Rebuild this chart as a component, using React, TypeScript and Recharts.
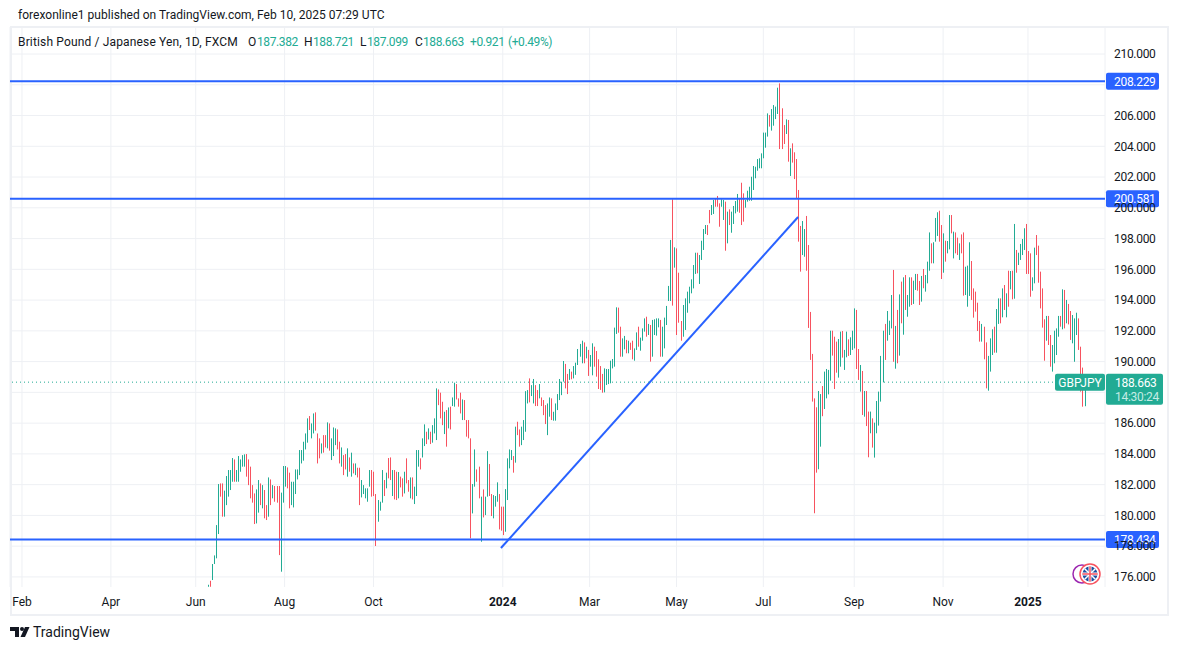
import {
  Bar,
  CartesianGrid,
  ComposedChart,
  ReferenceLine,
  XAxis,
  YAxis,
} from "recharts";

// daily highs, oldest first (Jun 2023 - Feb 2025)
const highs = [
  175.49, 175.75, 176.84, 177.40, 179.37, 182.04, 182.08, 182.08, 181.61, 182.56,
  182.95, 182.95, 183.73, 183.64, 182.95, 183.86, 183.64, 183.92, 183.97, 183.99,
  183.64, 183.17, 181.97, 181.43, 181.69, 182.30, 182.08, 181.97, 181.65, 180.67,
  182.47, 182.34, 181.97, 181.91, 181.91, 181.91, 181.48, 183.21, 183.21, 183.12,
  182.78, 182.19, 182.19, 182.99, 182.99, 184.25, 184.25, 184.79, 185.33, 186.31,
  186.46, 185.98, 186.63, 186.70, 185.33, 185.01, 184.68, 185.22, 185.22, 186.05,
  185.98, 185.01, 185.72, 185.66, 185.59, 184.79, 184.42, 183.92, 183.99, 184.36,
  183.77, 184.08, 183.38, 183.38, 183.10, 183.10, 182.30, 181.97, 181.76, 181.76,
  182.95, 182.95, 182.84, 181.39, 181.00, 180.89, 182.95, 182.30, 182.78, 183.73,
  183.77, 182.95, 182.95, 182.84, 182.82, 182.52, 182.41, 182.84, 183.71, 182.30,
  182.47, 182.47, 181.87, 184.25, 184.25, 183.71, 185.01, 185.92, 185.44, 185.66,
  185.44, 185.87, 186.31, 188.26, 188.19, 187.98, 187.39, 186.74, 186.85, 187.02,
  187.07, 187.67, 188.63, 188.54, 187.61, 187.98, 187.54, 187.50, 186.20, 186.20,
  185.01, 182.04, 184.29, 182.99, 183.17, 181.22, 181.69, 181.22, 184.18, 183.34,
  181.39, 181.32, 181.26, 182.15, 181.39, 180.57, 180.57, 181.71, 183.71, 184.29,
  184.25, 183.86, 185.77, 186.09, 185.59, 185.77, 186.20, 188.08, 188.15, 188.91,
  188.47, 188.87, 188.47, 188.15, 188.54, 187.67, 187.50, 187.17, 187.28, 187.67,
  187.61, 186.74, 187.28, 187.89, 188.87, 188.69, 190.04, 189.85, 189.20, 189.52,
  189.35, 189.71, 189.93, 190.82, 191.15, 191.36, 191.25, 190.97, 190.76, 190.43,
  191.19, 190.97, 190.69, 190.15, 189.71, 189.20, 189.56, 189.52, 189.52, 190.06,
  190.17, 192.21, 193.53, 193.51, 192.27, 191.51, 191.67, 191.41, 191.36, 191.23,
  191.36, 190.86, 191.90, 192.27, 191.56, 192.16, 192.81, 192.92, 192.45, 192.38,
  192.71, 192.75, 192.81, 192.81, 192.71, 192.27, 192.86, 193.62, 194.92, 197.91,
  200.55, 197.43, 197.36, 195.78, 192.64, 193.68, 194.11, 194.55, 194.87, 195.35,
  196.28, 197.08, 197.08, 196.93, 197.86, 198.62, 198.88, 198.88, 199.86, 200.18,
  200.51, 200.62, 200.77, 200.29, 200.55, 200.51, 200.40, 199.75, 199.90, 199.75,
  200.12, 200.44, 200.90, 200.61, 201.63, 200.94, 200.51, 201.11, 201.37, 202.02,
  202.72, 202.67, 203.17, 203.22, 203.54, 204.89, 204.89, 206.14, 206.03, 206.42,
  206.68, 206.58, 207.81, 208.09, 206.47, 205.38, 205.75, 205.71, 203.87, 204.19,
  203.61, 203.17, 201.16, 198.82, 199.14, 198.62, 199.47, 197.58, 193.23, 190.50,
  187.61, 187.03, 188.09, 187.89, 188.41, 189.35, 189.52, 189.46, 192.01, 192.01,
  191.62, 191.30, 191.47, 191.95, 191.99, 190.76, 191.95, 191.45, 191.58, 192.01,
  193.46, 193.36, 190.82, 189.78, 189.39, 188.09, 188.09, 186.75, 186.75, 186.31,
  186.03, 187.44, 188.05, 190.37, 192.01, 192.45, 193.29, 192.66, 194.33, 195.96,
  192.32, 193.36, 194.37, 195.20, 195.48, 195.63, 194.33, 195.48, 195.48, 195.26,
  195.70, 195.70, 195.24, 195.57, 196.02, 195.63, 196.50, 198.40, 197.69, 197.76,
  199.34, 199.71, 199.81, 198.88, 198.34, 197.86, 197.84, 199.53, 199.53, 198.45,
  198.40, 198.06, 197.69, 198.27, 198.40, 196.17, 196.24, 197.76, 196.54, 194.76,
  194.55, 193.83, 192.64, 192.45, 192.27, 191.25, 190.37, 191.51, 192.10, 192.27,
  193.42, 194.11, 194.11, 194.76, 194.98, 194.44, 195.91, 195.89, 195.91, 198.95,
  197.26, 197.08, 197.65, 197.97, 198.67, 198.95, 197.19, 197.04, 195.48, 197.41,
  198.23, 197.54, 195.85, 194.76, 192.75, 192.97, 192.97, 191.73, 191.08, 192.01,
  192.16, 192.97, 192.97, 194.70, 194.66, 194.01, 193.75, 193.29, 193.03, 192.81,
  193.18, 192.81, 190.97, 189.61, 188.72,
];

const lows = [
  175.36, 175.36, 175.80, 176.84, 177.21, 178.79, 181.22, 179.92, 179.92, 180.67,
  181.22, 181.65, 182.19, 182.19, 182.19, 182.19, 182.84, 183.17, 183.17, 182.52,
  181.97, 181.11, 180.83, 179.44, 179.48, 180.18, 180.67, 180.46, 179.81, 179.70,
  179.92, 180.67, 181.11, 180.89, 180.83, 177.42, 176.34, 180.83, 181.87, 181.76,
  180.46, 180.67, 180.52, 181.39, 182.34, 182.62, 183.38, 183.56, 184.29, 184.73,
  185.55, 185.01, 185.33, 185.51, 183.38, 183.71, 184.03, 184.08, 184.42, 184.36,
  184.21, 183.60, 183.86, 184.57, 184.29, 183.38, 183.17, 182.62, 182.99, 182.52,
  182.84, 182.52, 182.73, 182.62, 182.47, 180.67, 181.17, 181.39, 181.11, 180.89,
  181.87, 181.22, 181.26, 178.01, 179.59, 180.31, 180.83, 181.26, 181.76, 182.41,
  182.30, 181.26, 181.04, 181.00, 181.11, 181.82, 181.22, 181.43, 182.08, 181.54,
  181.11, 181.04, 180.74, 181.26, 183.17, 182.99, 183.77, 184.51, 184.64, 184.94,
  184.64, 184.73, 185.33, 184.90, 187.17, 186.31, 185.87, 185.29, 184.47, 185.66,
  185.59, 187.11, 187.07, 187.54, 187.07, 186.63, 186.20, 186.20, 185.12, 185.01,
  178.51, 180.13, 181.87, 182.19, 181.11, 178.29, 179.87, 180.02, 181.22, 181.26,
  179.96, 179.81, 180.57, 180.89, 179.09, 179.01, 178.72, 178.94, 181.00, 183.06,
  183.60, 182.78, 183.43, 185.22, 184.47, 184.57, 184.90, 185.44, 187.28, 187.35,
  187.76, 187.28, 187.11, 187.11, 187.61, 187.11, 186.52, 185.94, 185.22, 186.42,
  186.20, 186.16, 186.16, 186.85, 187.50, 187.82, 188.70, 188.26, 187.89, 188.81,
  188.85, 188.91, 189.14, 189.78, 190.32, 189.89, 189.89, 190.21, 189.07, 189.67,
  189.11, 189.67, 189.02, 188.22, 188.16, 187.98, 188.00, 188.48, 188.54, 188.59,
  189.56, 189.67, 191.80, 191.88, 190.32, 190.32, 190.80, 190.54, 190.54, 190.76,
  190.15, 190.06, 190.76, 190.97, 190.71, 191.36, 191.95, 191.62, 191.73, 190.00,
  190.32, 191.73, 191.69, 192.23, 190.32, 190.32, 190.86, 192.38, 193.94, 193.94,
  193.64, 196.11, 191.73, 192.53, 191.36, 191.62, 192.06, 193.18, 193.79, 194.44,
  194.76, 195.70, 195.74, 195.05, 196.61, 197.26, 198.30, 198.23, 198.99, 199.53,
  199.60, 200.07, 200.07, 198.77, 200.07, 199.21, 197.21, 197.69, 198.88, 198.38,
  198.95, 199.64, 199.75, 199.68, 198.88, 199.10, 200.01, 200.40, 200.46, 200.46,
  201.16, 201.92, 202.41, 202.57, 202.57, 203.22, 203.91, 204.63, 205.28, 205.02,
  205.34, 205.77, 206.10, 203.82, 203.82, 204.15, 204.80, 203.00, 202.07, 202.94,
  201.87, 200.62, 197.80, 195.85, 196.93, 196.82, 195.91, 192.19, 190.11, 187.40,
  180.14, 182.78, 183.00, 184.47, 186.45, 186.92, 187.61, 187.87, 188.76, 190.39,
  188.22, 189.28, 188.96, 189.67, 190.26, 189.46, 190.28, 190.37, 190.43, 190.76,
  190.86, 189.52, 188.81, 188.05, 186.53, 186.42, 185.81, 183.78, 185.34, 184.41,
  183.76, 185.34, 185.84, 187.40, 188.65, 190.11, 191.36, 191.73, 192.16, 189.99,
  189.54, 189.89, 190.39, 192.49, 191.75, 193.36, 192.92, 193.57, 193.68, 193.75,
  194.66, 194.61, 193.68, 193.90, 194.77, 194.55, 195.09, 195.91, 196.39, 196.39,
  197.80, 198.17, 197.80, 195.37, 195.78, 196.50, 197.04, 197.30, 198.34, 196.71,
  197.04, 196.93, 196.61, 197.04, 194.29, 194.33, 193.57, 194.27, 194.01, 192.86,
  193.25, 191.99, 191.30, 191.30, 190.15, 188.26, 188.11, 189.35, 190.43, 190.58,
  190.58, 192.45, 192.49, 192.88, 193.36, 192.88, 193.57, 194.70, 194.05, 194.09,
  195.78, 196.28, 196.61, 196.93, 197.26, 195.70, 195.70, 194.22, 194.61, 195.09,
  196.93, 195.13, 193.46, 192.21, 190.06, 191.36, 191.08, 189.67, 189.35, 189.89,
  190.43, 191.62, 192.27, 192.10, 192.16, 192.49, 192.42, 191.41, 191.19, 189.99,
  191.73, 190.76, 188.05, 187.07, 187.10,
];

// 1 = green day, 0 = red day
const upDays = [
  1, 0, 1, 1, 1, 1, 0, 0, 1, 1,
  1, 1, 1, 0, 1, 1, 1, 1, 1, 0,
  0, 0, 0, 0, 1, 1, 0, 1, 0, 0,
  1, 0, 1, 0, 0, 0, 1, 1, 1, 0,
  0, 1, 1, 1, 1, 1, 1, 1, 1, 1,
  0, 1, 1, 0, 0, 0, 1, 0, 0, 1,
  0, 1, 1, 1, 0, 0, 1, 0, 0, 1,
  0, 1, 0, 1, 0, 0, 1, 1, 1, 1,
  1, 0, 0, 0, 1, 1, 1, 0, 1, 0,
  0, 1, 0, 0, 1, 0, 0, 1, 0, 0,
  1, 0, 1, 1, 1, 0, 1, 1, 0, 1,
  0, 1, 1, 1, 0, 0, 0, 1, 0, 1,
  0, 1, 1, 0, 0, 0, 1, 0, 0, 0,
  0, 1, 1, 0, 0, 1, 0, 1, 1, 0,
  0, 1, 1, 1, 0, 0, 0, 1, 1, 1,
  1, 0, 1, 0, 0, 1, 1, 1, 1, 0,
  1, 1, 0, 0, 1, 0, 0, 0, 1, 1,
  0, 1, 1, 1, 1, 1, 1, 0, 0, 1,
  0, 1, 1, 1, 1, 1, 0, 1, 0, 1,
  1, 0, 0, 0, 0, 0, 1, 1, 1, 1,
  1, 1, 1, 0, 0, 1, 1, 0, 1, 0,
  0, 1, 1, 0, 1, 1, 1, 0, 1, 0,
  1, 1, 1, 1, 0, 1, 1, 1, 1, 1,
  0, 1, 0, 0, 0, 1, 1, 1, 1, 1,
  1, 1, 0, 1, 1, 1, 1, 0, 0, 1,
  1, 0, 0, 0, 1, 1, 0, 1, 0, 1,
  1, 1, 1, 0, 0, 0, 1, 1, 1, 1,
  1, 1, 1, 1, 1, 1, 1, 1, 0, 1,
  1, 1, 1, 0, 0, 0, 1, 0, 1, 0,
  0, 0, 0, 0, 1, 1, 0, 0, 0, 0,
  0, 0, 1, 1, 0, 1, 1, 1, 1, 0,
  0, 0, 1, 1, 0, 1, 1, 0, 1, 1,
  1, 0, 0, 1, 0, 1, 0, 0, 1, 0,
  1, 1, 1, 1, 1, 0, 1, 1, 1, 0,
  1, 0, 1, 0, 1, 0, 1, 1, 0, 1,
  1, 0, 0, 1, 0, 1, 1, 1, 0, 1,
  1, 1, 0, 0, 1, 0, 1, 1, 0, 1,
  0, 0, 1, 0, 0, 1, 1, 1, 0, 0,
  0, 0, 0, 1, 0, 0, 1, 1, 1, 0,
  1, 1, 0, 1, 0, 1, 0, 1, 0, 1,
  0, 1, 1, 1, 1, 0, 0, 0, 1, 1,
  0, 0, 0, 0, 0, 1, 0, 0, 1, 1,
  1, 1, 0, 1, 0, 1, 0, 0, 1, 1,
  1, 0, 0, 0, 1,
];

// trading day number counted from the Feb 2023 tick
const firstDay = 92;
const monthDays = [0, 44, 86, 130, 174, 238, 281, 324, 367, 412, 456, 498];
const monthLabels = ["Feb", "Apr", "Jun", "Aug", "Oct", "2024", "Mar", "May", "Jul", "Sep", "Nov", "2025"];

const gridPrices = [176, 178, 180, 182, 184, 186, 188, 190, 192, 194, 196, 198, 200, 202, 204, 206, 208, 210];
// 188 and 208 sit fully under the price tags in the reference
const priceTicks = [176, 178, 180, 182, 184, 186, 190, 192, 194, 196, 198, 200, 202, 204, 206, 210];
const levels = [208.229, 200.581, 178.434];
const lastPrice = 188.663;
const trendStart = { day: 237.1, price: 177.88 };
const trendEnd = { day: 384.2, price: 199.4 };

const rows = highs.map((high, i) => ({
  day: firstDay + i,
  range: [lows[i], high],
  up: upDays[i] === 1,
}));

const GREEN = "#22ab94";
const RED = "#f7525f";
const BLUE = "#2962ff";
const GRID = "#eef0f4";
const INK = "#131722";
const FONT = "Roboto, sans-serif";

const RangeBar = (props: any) => (
  <rect
    x={Math.round(props.x)}
    y={props.y}
    width={1}
    height={Math.abs(props.height)}
    fill={props.payload.up ? GREEN : RED}
  />
);

const MonthTick = ({ x, y, payload }: any) => {
  const label = monthLabels[monthDays.indexOf(payload.value)];
  const isYear = label.length === 4;
  return (
    <text x={x} y={y} textAnchor="middle" dominantBaseline="central" fontFamily={FONT} fontSize={12} fontWeight={isYear ? 700 : 400} fill={INK}>
      {label}
    </text>
  );
};

const LevelTag = ({ viewBox, value }: any) => {
  const right = viewBox.x + viewBox.width;
  return (
    <g>
      <rect x={right + 1} y={viewBox.y - 8.5} width={53} height={17} rx={2} fill={BLUE} />
      <text x={right + 9} y={viewBox.y + 0.5} dominantBaseline="central" fontFamily={FONT} fontSize={12} letterSpacing={-0.3} fill="#fff">
        {value.toFixed(3)}
      </text>
    </g>
  );
};

const LastTag = ({ viewBox, value }: any) => {
  const right = viewBox.x + viewBox.width;
  const top = viewBox.y - 8.5;
  return (
    <g>
      <rect x={right - 50} y={top} width={50} height={17} rx={2} fill={GREEN} />
      <text x={right - 25} y={top + 9} textAnchor="middle" dominantBaseline="central" fontFamily={FONT} fontSize={12} fill="#fff">
        GBPJPY
      </text>
      <rect x={right + 1} y={top} width={57} height={31} rx={2} fill={GREEN} />
      <text x={right + 10} y={top + 9} dominantBaseline="central" fontFamily={FONT} fontSize={12} letterSpacing={-0.3} fill="#fff">
        {value.toFixed(3)}
      </text>
      <text x={right + 10} y={top + 23} dominantBaseline="central" fontFamily={FONT} fontSize={12} letterSpacing={-0.3} fill="#c5ebe4">
        14:30:24
      </text>
    </g>
  );
};

const Quote = ({ x, children, color, tight }: any) => (
  <span style={{ position: "absolute", left: x, top: 35, color, whiteSpace: "nowrap", letterSpacing: tight ? -0.4 : 0.15 }}>{children}</span>
);

const App = () => (
  <div style={{ position: "absolute", left: 0, top: 0, width: 1177, height: 650, background: "#fff", fontFamily: FONT, fontSize: 12, color: INK, lineHeight: "14px", overflow: "hidden" }}>
    <span style={{ position: "absolute", left: 18, top: 8, whiteSpace: "nowrap", letterSpacing: 0.03 }}>
      forexonline1 published on TradingView.com, Feb 10, 2025 07:29 UTC
    </span>
    <div style={{ position: "absolute", left: 10, top: 26, width: 1155, height: 586, border: `2px solid ${GRID}` }} />

    <ComposedChart
      width={1177}
      height={650}
      data={rows}
      margin={{ top: 27, right: 10, bottom: 35, left: 10 }}
      barCategoryGap={0}
      style={{ position: "absolute", left: 0, top: 0 }}
    >
      <CartesianGrid stroke={GRID} strokeWidth={1} horizontalValues={gridPrices} />
      <XAxis
        dataKey="day"
        type="number"
        domain={[-5.94, 536.14]}
        ticks={monthDays}
        interval={0}
        height={28}
        axisLine={false}
        tickLine={false}
        tickMargin={9}
        tick={<MonthTick />}
      />
      <YAxis
        orientation="right"
        type="number"
        domain={[175.345, 211.756]}
        ticks={priceTicks}
        interval={0}
        width={62}
        axisLine={false}
        tickLine={false}
        tickSize={0}
        tickMargin={9}
        tick={{ fontFamily: FONT, fontSize: 12, fill: INK, letterSpacing: -0.3 }}
        tickFormatter={(v: number) => v.toFixed(3)}
      />
      <Bar dataKey="range" barSize={1} isAnimationActive={false} shape={RangeBar} />
      <ReferenceLine
        y={lastPrice}
        stroke={GREEN}
        strokeWidth={1}
        strokeDasharray="1 3"
        zIndex={1500}
        label={<LastTag value={lastPrice} />}
      />
      {levels.map((level) => (
        <ReferenceLine key={level} y={level} stroke={BLUE} strokeWidth={2} zIndex={1500} label={<LevelTag value={level} />} />
      ))}
      <ReferenceLine
        segment={[
          { x: trendStart.day, y: trendStart.price },
          { x: trendEnd.day, y: trendEnd.price },
        ]}
        stroke={BLUE}
        strokeWidth={2}
      />
    </ComposedChart>

    <Quote x={18}>British Pound / Japanese Yen, 1D, FXCM</Quote>
    <Quote x={248}>O</Quote>
    <Quote x={257} color={GREEN} tight>187.382</Quote>
    <Quote x={304}>H</Quote>
    <Quote x={313} color={GREEN} tight>188.721</Quote>
    <Quote x={360}>L</Quote>
    <Quote x={367} color={GREEN} tight>187.099</Quote>
    <Quote x={415}>C</Quote>
    <Quote x={423} color={GREEN} tight>188.663</Quote>
    <Quote x={470} color={GREEN} tight>+0.921</Quote>
    <Quote x={508} color={GREEN} tight>(+0.49%)</Quote>

    {/* currency badges */}
    <svg style={{ position: "absolute", left: 1072, top: 562 }} width={30} height={24} viewBox="0 0 30 24">
      <circle cx={10} cy={12} r={9} fill="#fff" stroke="#9c27b0" strokeWidth={1.5} />
      <circle cx={18} cy={12} r={10} fill="#fff" stroke={RED} strokeWidth={1.5} />
      <circle cx={18} cy={12} r={7.5} fill="#1c4fa1" />
      <path d="M12.7 6.7 L23.3 17.3 M23.3 6.7 L12.7 17.3" stroke="#fff" strokeWidth={1.5} />
      <path d="M18 4.5 V19.5 M10.5 12 H25.5" stroke="#fff" strokeWidth={3} />
      <path d="M18 4.5 V19.5 M10.5 12 H25.5" stroke={RED} strokeWidth={1.5} />
    </svg>

    {/* footer logo */}
    <svg style={{ position: "absolute", left: 10, top: 627 }} width={20} height={11} viewBox="0 0 20 11">
      <path d="M0 0 H9 V10 H5 V4 H0 Z" fill={INK} />
      <circle cx={12} cy={2} r={2} fill={INK} />
      <path d="M15 0 H19.5 L15 10 H10.5 Z" fill={INK} />
    </svg>
    <span style={{ position: "absolute", left: 33, top: 624, fontSize: 14, lineHeight: "16px", whiteSpace: "nowrap" }}>TradingView</span>
  </div>
);

export default App;
